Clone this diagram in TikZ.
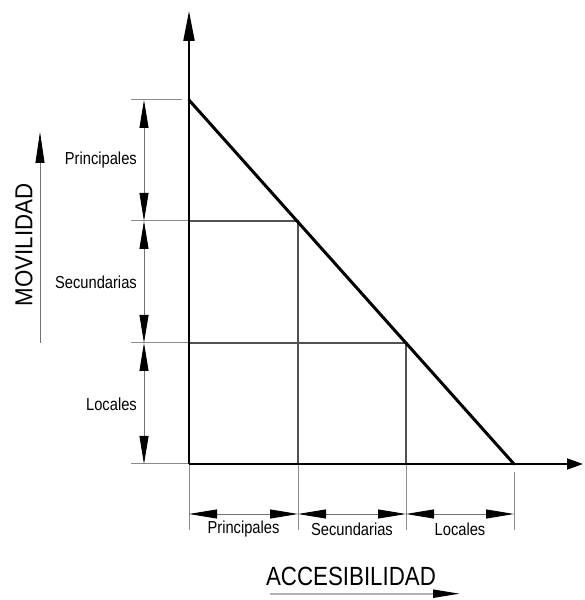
\documentclass[tikz,border=0pt]{standalone}
\usepackage{fontspec}
\usepackage{graphicx}
\setmainfont{Liberation Sans}
\usetikzlibrary{arrows.meta}
\newcommand{\stt}[1]{\scalebox{1}[1.18]{#1}}
\begin{document}
\begin{tikzpicture}[x=1pt,y=1pt,
  axisline/.style={line width=2pt,black},
  diagline/.style={line width=3pt,black},
  thinline/.style={line width=1.1pt,black!68},
  extline/.style={line width=1pt,black!45},
  dimline/.style={line width=0.8pt,black!55,{Triangle[length=28pt,width=9pt,black]}-{Triangle[length=28pt,width=9pt,black]}},
  small/.style={font=\fontsize{14.7}{16}\selectfont,inner sep=0pt},
  big/.style={font=\fontsize{22.3}{24}\selectfont,inner sep=0pt}]
\useasboundingbox (0,0) rectangle (584,600);
% main points
\coordinate (O) at (189,136);
\coordinate (Ytop) at (189,589);
\coordinate (Xtip) at (583,136);
\coordinate (A) at (189,500);
\coordinate (B) at (514,136);
\coordinate (P1) at (298,379);
\coordinate (P2) at (406,257);
\coordinate (G1) at (189,379);
\coordinate (G2) at (189,257);
\coordinate (X1) at (298,136);
\coordinate (X2) at (406,136);
% extension ends
\coordinate (eA) at (131,500);
\coordinate (eAr) at (182,500);
\coordinate (e1) at (131,379);
\coordinate (e2) at (131,257);
\coordinate (e0) at (131,136);
\coordinate (b0) at (189,70);
\coordinate (b1) at (298,70);
\coordinate (b2) at (406,70);
\coordinate (b3t) at (514,128);
\coordinate (b3) at (514,70);
% dimension points
\coordinate (v0) at (144,500);
\coordinate (v1) at (144,379);
\coordinate (v2) at (144,257);
\coordinate (v3) at (144,136);
\coordinate (h0) at (189,86);
\coordinate (h1) at (298,86);
\coordinate (h2) at (406,86);
\coordinate (h3) at (514,86);
% extension lines (left and below)
\draw[extline] (eA) -- (eAr);
\draw[extline] (e1) -- (G1);
\draw[extline] (e2) -- (G2);
\draw[extline] (e0) -- (O);
\draw[extline] (X1) -- (b1);
\draw[extline] (X2) -- (b2);
\draw[extline] (O) -- (b0);
\draw[extline] (b3t) -- (b3);
% grid lines
\draw[thinline] (G1) -- (P1) -- (X1);
\draw[thinline] (G2) -- (P2) -- (X2);
% axes
\draw[axisline,-{Triangle[length=30pt,width=11pt]}] (O) -- (Ytop);
\draw[axisline,-{Triangle[length=16pt,width=11pt]}] (O) -- (Xtip);
\draw[diagline,line cap=round] (A) -- (B);
% dimensions
\draw[dimline] (v0) -- (v1);
\draw[dimline] (v1) -- (v2);
\draw[dimline] (v2) -- (v3);
\draw[dimline] (h0) -- (h1);
\draw[dimline] (h1) -- (h2);
\draw[dimline] (h2) -- (h3);
% labels
\node[small,anchor=east] (lp) at (137,440) {\stt{Principales}};
\node[small,anchor=east] (ls) at (137,318) {\stt{Secundarias}};
\node[small,anchor=east] (ll) at (137,196) {\stt{Locales}};
\node[small] (bp) at (243.5,71) {\stt{Principales}};
\node[small] (bs) at (352,71) {\stt{Secundarias}};
\node[small] (bl) at (460,71) {\stt{Locales}};
\node[big,rotate=90] (mov) at (24,355) {\scalebox{1}[1.1]{MOVILIDAD}};
\node[big] (acc) at (351,23.5) {\scalebox{1}[1.18]{ACCESIBILIDAD}};
% label arrows
\coordinate (m0) at (40,257);
\coordinate (m1) at (40,468);
\coordinate (a0) at (270,6.3);
\coordinate (a1) at (460,6.3);
\draw[line width=0.8pt,black!55,-{Triangle[length=31pt,width=9pt,black]}] (m0) -- (m1);
\draw[line width=2pt,black!30,-{Triangle[length=27pt,width=8pt,black]}] (a0) -- (a1);
\end{tikzpicture}
\end{document}
